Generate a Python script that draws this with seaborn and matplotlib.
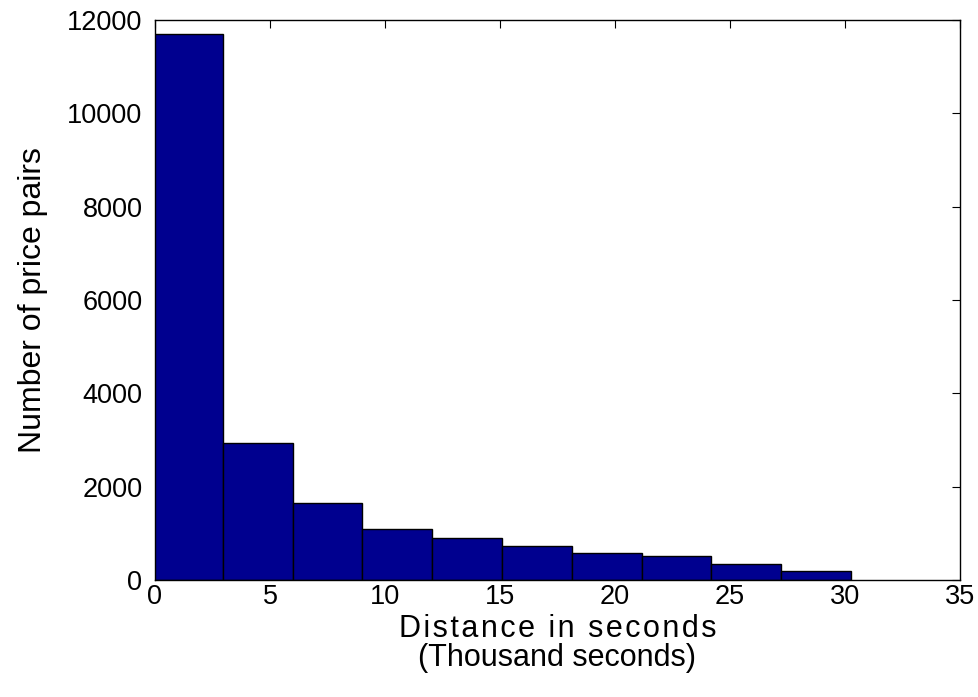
import numpy as np
import pandas as pd
import matplotlib
matplotlib.use("Agg")
import matplotlib.pyplot as plt
import seaborn as sns

# histogram counts (thousand seconds)
bin_start = -0.09
bin_width = 3.035
counts = [11700, 2930, 1640, 1100, 900, 730, 580, 510, 340, 190]

n = len(counts)
centers = bin_start + bin_width * (np.arange(n) + 0.5)
df = pd.DataFrame({"distance": centers, "count": counts})

sns.set_style("white", rc={"text.color": "black", "axes.labelcolor": "black",
                           "xtick.color": "black", "ytick.color": "black",
                           "axes.edgecolor": "black"})
plt.rcParams["font.family"] = ["Liberation Sans", "DejaVu Sans"]

fig = plt.figure(figsize=(9.79, 6.97), dpi=100)
ax = fig.add_axes([0.1583, 0.1679, 0.8223, 0.8034])

sns.histplot(data=df, x="distance", weights="count",
             binwidth=bin_width, binrange=(bin_start, bin_start + bin_width * n),
             color="#00008F", edgecolor="black", linewidth=1.0,
             alpha=1.0, ax=ax)

ax.set_xlim(0, 35)
ax.set_ylim(0, 12000)
ax.set_xticks(range(0, 36, 5))
ax.set_yticks(range(0, 12001, 2000))
ax.tick_params(direction="in", top=True, right=True, length=6,
               width=0.8, labelsize=19.5, pad=9)
ax.tick_params(axis="x", pad=3)
for s in ax.spines.values():
    s.set_linewidth(1.0)

# MATLAB-like wider letter spacing on the first line
hair = "\u200a"
line1 = hair.join("Distance in seconds")
ax.set_xlabel(line1 + "\n(Thousand seconds)", fontsize=22, linespacing=0.95,
              labelpad=3)
ax.set_ylabel("Number of price pairs", fontsize=23, labelpad=14)

fig.savefig("out.png", dpi=100)
